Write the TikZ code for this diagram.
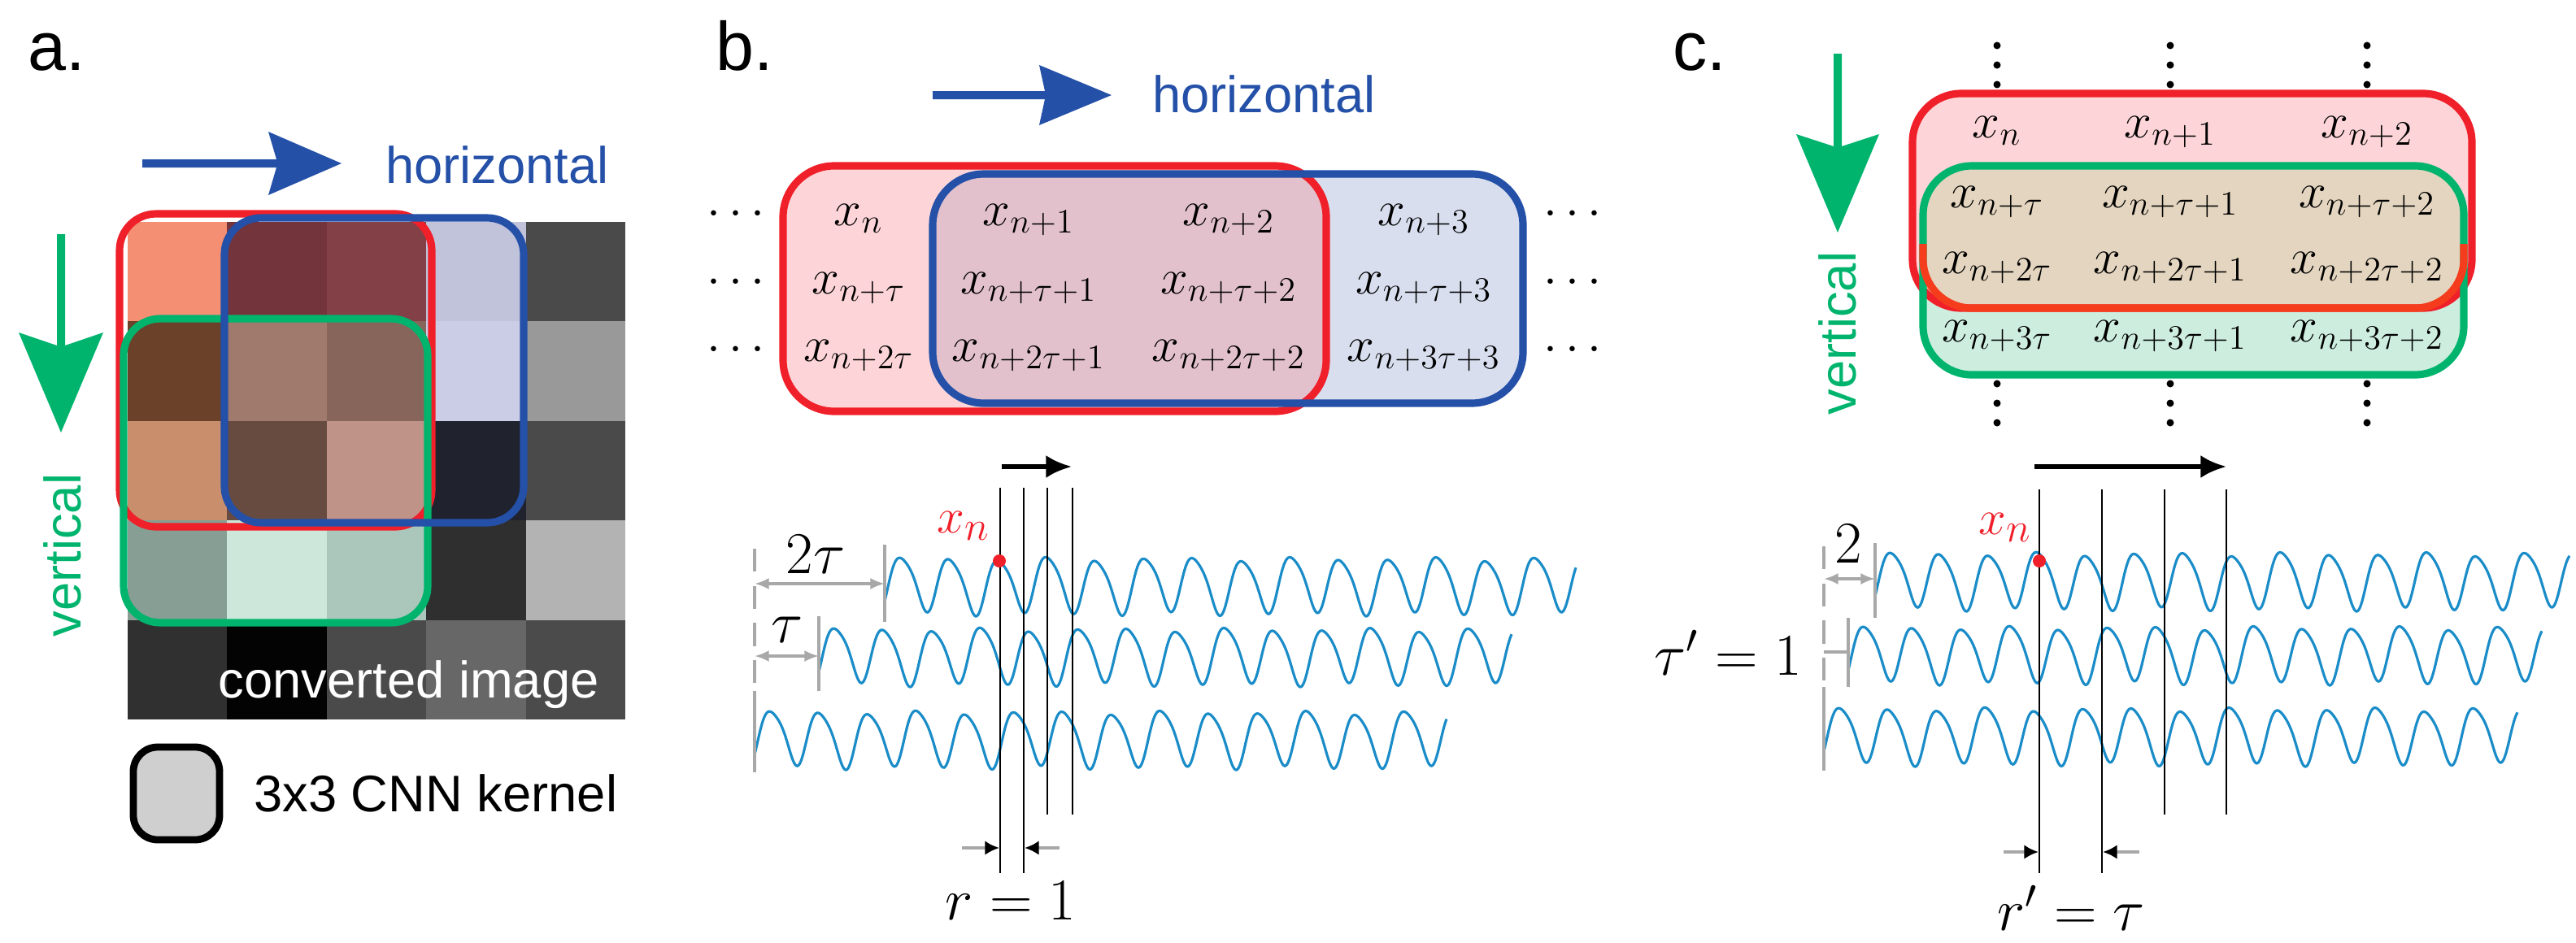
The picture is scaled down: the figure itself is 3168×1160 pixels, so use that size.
\documentclass[tikz,border=0pt]{standalone}
\usepackage{fontspec}
\setmainfont{Liberation Sans}
\usetikzlibrary{arrows.meta}
\newcommand\fsz[1]{\fontsize{#1}{#1}\selectfont}
\definecolor{kblue}{HTML}{2450A8}
\definecolor{kgreen}{HTML}{00B46E}
\definecolor{kred}{HTML}{F0202A}
\definecolor{wavec}{HTML}{1A8CC8}
\definecolor{pinkf}{HTML}{FDD5D8}
\definecolor{bluef}{HTML}{D8DEEE}
\definecolor{mixf}{HTML}{E2C1CD}
\definecolor{tanf}{HTML}{E3D5BF}
\definecolor{greenf}{HTML}{CDEEDF}
\definecolor{dimg}{HTML}{A8A8A8}
\tikzset{
  lbl/.style={font=\fsz{24}},
  sans/.style={font=\fsz{18}},
  mth/.style={font=\fsz{17.5}, anchor=base, inner sep=0pt},
  big/.style={font=\fsz{21}, inner sep=0pt},
  xn/.style={font=\fsz{19}, text=kred, inner sep=0pt},
  wave/.style={wavec, line width=0.9pt},
  vline/.style={black, line width=0.8pt},
  dim/.style={dimg, line width=0.9pt, {Latex[length=5pt,width=4pt]}-{Latex[length=5pt,width=4pt]}},
  rmark/.style={dimg, line width=1.2pt, -{Latex[black,length=5pt,width=5pt]}},
  kbox/.style={line width=2.6pt, rounded corners=0.45cm},
}
\begin{document}
\begin{tikzpicture}[x=0.01cm,y=-0.01cm,
  declare function={sig(\t)=sin(6*(\t-6))+0.16*sin(12*(\t-6)+50)+0.08*sin(2.3*\t);}]
\useasboundingbox (0,0) rectangle (3168,1160);
% ---------- panel a ----------
\node[lbl, anchor=base west] (la) at (22,86) {a.};
\foreach \c [count=\i from 0] in {F48F74,74343B,834047,C0C3DA,4A4A4A,
  6B4129,A07A6D,87655A,CBCDE6,999999,
  C98F6D,674B41,C09389,20222E,4A4A4A,
  869E93,CDE8DA,ABC7BB,2F2F2F,B3B3B3,
  303030,030303,4A4A4A,676767,4B4B4B}{
  \pgfmathtruncatemacro\row{\i/5}
  \pgfmathtruncatemacro\col{mod(\i,5)}
  \definecolor{cc}{HTML}{\c}
  \fill[cc] ({157+122.4*\col},{273+122.4*\row}) rectangle ++(122.4,122.4);
}
\draw[kbox, kred] (147,263) rectangle (531,648);
\draw[kbox, kgreen] (152,392) rectangle (526,766);
\draw[kbox, kblue] (276,268) rectangle (644,643);
\node[sans, text=white, anchor=base east] (conv) at (749,858) {converted image};
\fill[kblue] (175,196) -- (340,196) -- (330,162) -- (420,201) -- (330,240) -- (340,206) -- (175,206) -- cycle;
\node[sans, text=kblue, anchor=base west] (ha) at (462,225) {horizontal};
\fill[kgreen] (70,288) -- (70,425) -- (23,409) -- (75,532) -- (127,409) -- (80,425) -- (80,288) -- cycle;
\node[sans, text=kgreen, rotate=90] (va) at (77,683) {vertical};
\draw[line width=2.5pt, fill=black!19, rounded corners=0.3cm] (164,919) rectangle (270,1033);
\node[sans, anchor=west] (kern) at (300,976) {3x3 CNN kernel};
% ---------- panel b ----------
\node[lbl, anchor=base west] (lb) at (868,86) {b.};
\fill[kblue] (1147,112) -- (1285,112) -- (1278,80) -- (1367,117) -- (1278,154) -- (1285,122) -- (1147,122) -- cycle;
\node[sans, text=kblue, anchor=base west] (hb) at (1405,138) {horizontal};
\fill[pinkf, rounded corners=0.63cm] (963,204) rectangle (1631,506);
\fill[bluef, rounded corners=0.63cm] (1147,214) rectangle (1873,496);
\begin{scope}
\clip[rounded corners=0.63cm] (963,204) rectangle (1631,506);
\fill[mixf, rounded corners=0.63cm] (1147,214) rectangle (1873,496);
\end{scope}
\draw[kbox, kred, rounded corners=0.63cm] (963,204) rectangle (1631,506);
\draw[kbox, kblue, rounded corners=0.63cm] (1147,214) rectangle (1873,496);
\foreach \y/\r in {277/1,361/2,444/3}{
  \node[mth] (dl\r) at (905,\y) {$\cdots$};
  \node[mth] (dr\r) at (1934,\y) {$\cdots$};
}
\node[mth] (b11) at (1056,277) {$x_n$};
\node[mth] (b12) at (1265,277) {$x_{n+1}$};
\node[mth] (b13) at (1511,277) {$x_{n+2}$};
\node[mth] (b14) at (1751,277) {$x_{n+3}$};
\node[mth] (b21) at (1056,361) {$x_{n+\tau}$};
\node[mth] (b22) at (1265,361) {$x_{n+\tau+1}$};
\node[mth] (b23) at (1511,361) {$x_{n+\tau+2}$};
\node[mth] (b24) at (1751,361) {$x_{n+\tau+3}$};
\node[mth] (b31) at (1056,444) {$x_{n+2\tau}$};
\node[mth] (b32) at (1265,444) {$x_{n+2\tau+1}$};
\node[mth] (b33) at (1511,444) {$x_{n+2\tau+2}$};
\node[mth] (b34) at (1751,444) {$x_{n+3\tau+3}$};
% waves b
\draw[wave] plot[domain=0:850,samples=600] ({1088+\x},{718-33*sig(\x)});
\draw[wave] plot[domain=0:852,samples=600] ({1007+\x},{805-33*sig(\x)});
\draw[wave] plot[domain=0:851,samples=600] ({928+\x},{907-33*sig(\x)});
\coordinate (bs0) at (928,675); \coordinate (bs0m) at (928,850); \coordinate (bs0e) at (928,950);
\draw[dimg, line width=0.9pt, dash pattern=on 8pt off 5pt] (bs0) -- (bs0m);
\draw[dimg, line width=0.9pt] (bs0m) -- (bs0e);
\draw[dimg, line width=0.9pt] (1088,670) -- (1088,765);
\draw[dimg, line width=0.9pt] (1007,758) -- (1007,850);
\draw[dim] (928,718) -- (1088,718);
\draw[dim] (928,807) -- (1007,807);
\node[big] (t2) at (1003,682) {$2\tau$};
\node[big] (t1) at (968,775) {$\tau$};
\foreach \x/\b in {1230/1074,1259/1074,1288/1002,1319/1002}{\draw[vline] (\x,600) -- (\x,\b);}
\draw[black, line width=1.6pt, -{Latex[length=9pt,width=8pt]}] (1232,574) -- (1318,574);
\fill[kred] (1229,690) circle (8);
\node[xn] (xnb) at (1185,647) {$x_n$};
\draw[rmark] (1183,1043) -- (1229,1043);
\draw[rmark] (1303,1043) -- (1260,1043);
\node[big] (rb) at (1243,1108) {$r=1$};
% ---------- panel c ----------
\node[lbl, anchor=base west] (lc) at (2045,86) {c.};
\fill[kgreen] (2255,66) -- (2255,180) -- (2209,165) -- (2260,286) -- (2311,165) -- (2265,180) -- (2265,66) -- cycle;
\node[sans, text=kgreen, rotate=90] (vc) at (2260,410) {vertical};
\fill[pinkf, rounded corners=0.6cm] (2352,115) rectangle (3040,379);
\fill[greenf, rounded corners=0.6cm] (2365,204) rectangle (3030,461);
\begin{scope}
\clip[rounded corners=0.6cm] (2352,115) rectangle (3040,379);
\fill[tanf, rounded corners=0.6cm] (2365,204) rectangle (3030,461);
\end{scope}
\draw[kbox, kred, rounded corners=0.6cm] (2352,115) rectangle (3040,379);
\draw[kbox, kgreen, rounded corners=0.6cm] (2365,204) rectangle (3030,461);
\draw[kred!70!orange, line width=2.6pt, rounded corners=0.6cm] (2365,300) -- (2365,379) -- (3030,379) -- (3030,300);
\foreach \x in {2456,2669,2911}{
  \foreach \y in {56,80,104,472,496,520}{\fill (\x,\y) circle (4.5);}
}
\node[mth] (c11) at (2456,169) {$x_n$};
\node[mth] (c12) at (2669,169) {$x_{n+1}$};
\node[mth] (c13) at (2911,169) {$x_{n+2}$};
\node[mth] (c21) at (2456,255) {$x_{n+\tau}$};
\node[mth] (c22) at (2669,255) {$x_{n+\tau+1}$};
\node[mth] (c23) at (2911,255) {$x_{n+\tau+2}$};
\node[mth] (c31) at (2456,336) {$x_{n+2\tau}$};
\node[mth] (c32) at (2669,336) {$x_{n+2\tau+1}$};
\node[mth] (c33) at (2911,336) {$x_{n+2\tau+2}$};
\node[mth] (c41) at (2456,420) {$x_{n+3\tau}$};
\node[mth] (c42) at (2669,420) {$x_{n+3\tau+1}$};
\node[mth] (c43) at (2911,420) {$x_{n+3\tau+2}$};
% waves c
\draw[wave] plot[domain=0:854,samples=600] ({2306+\x},{712-33*sig(\x)});
\draw[wave] plot[domain=0:853,samples=600] ({2273+\x},{803-33*sig(\x)});
\draw[wave] plot[domain=0:853,samples=600] ({2243+\x},{903-33*sig(\x)});
\coordinate (cs0) at (2243,672); \coordinate (cs0m) at (2243,845); \coordinate (cs0e) at (2243,948);
\draw[dimg, line width=0.9pt, dash pattern=on 8pt off 5pt] (cs0) -- (cs0m);
\draw[dimg, line width=0.9pt] (cs0m) -- (cs0e);
\draw[dimg, line width=0.9pt] (2306,668) -- (2306,760);
\draw[dimg, line width=0.9pt] (2273,760) -- (2273,845);
\draw[dim] (2243,712) -- (2306,712);
\draw[dimg, line width=0.9pt] (2243,802) -- (2273,802);
\node[big] (t2c) at (2273,669) {$2$};
\node[big] (tc) at (2125,803) {$\tau'=1$};
\foreach \x/\b in {2508/1074,2585/1074,2662/1002,2738/1002}{\draw[vline] (\x,602) -- (\x,\b);}
\draw[black, line width=1.6pt, -{Latex[length=9pt,width=8pt]}] (2502,574) -- (2738,574);
\fill[kred] (2508,690) circle (8);
\node[xn] (xnc) at (2466,649) {$x_n$};
\draw[rmark] (2464,1048) -- (2507,1048);
\draw[rmark] (2631,1048) -- (2586,1048);
\node[big] (rc) at (2547,1117) {$r'=\tau$};
\end{tikzpicture}
\end{document}
